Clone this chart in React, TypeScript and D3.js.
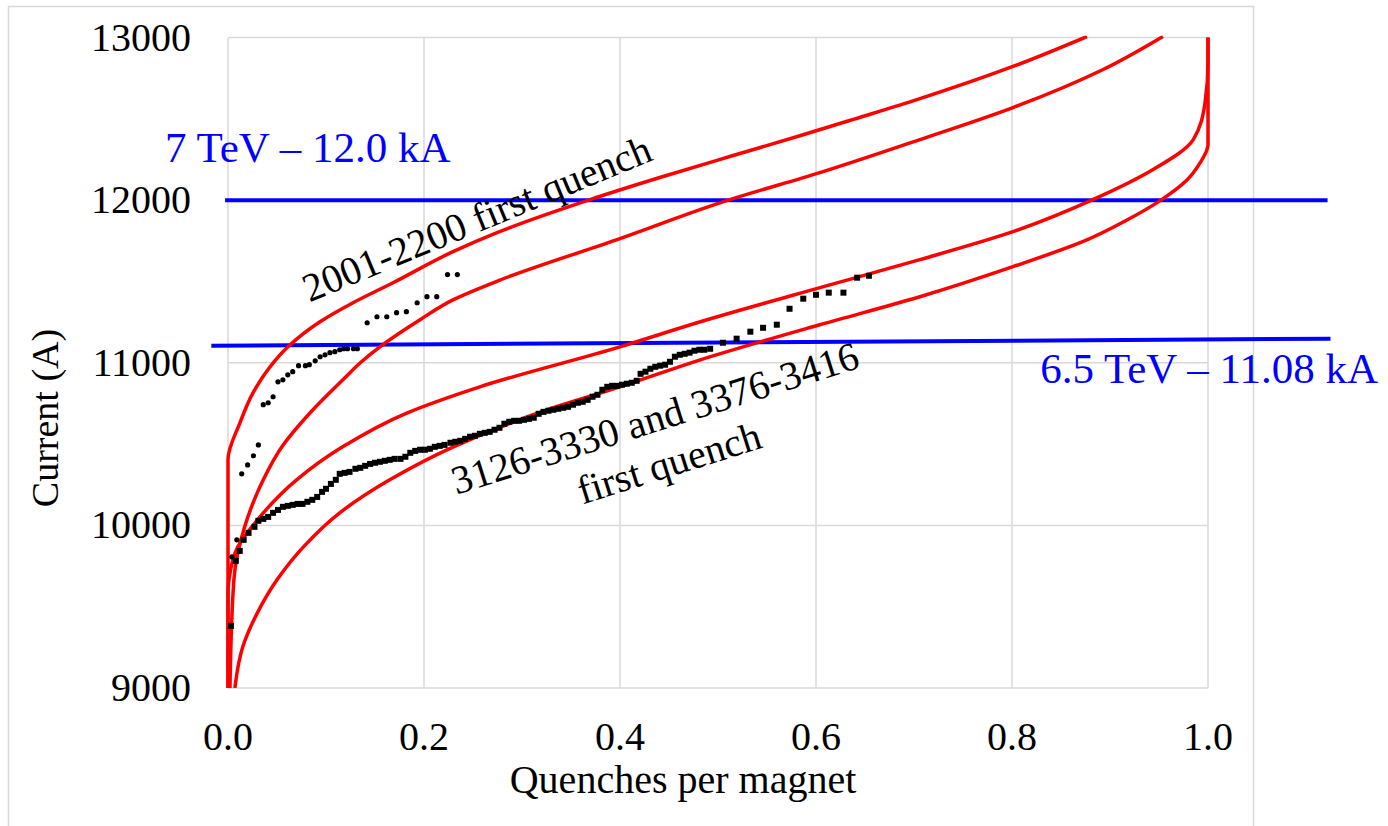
import React from 'react';
import * as d3 from 'd3';

// red envelope curves: [quenches per magnet, current A]
const curveA: [number, number][] = [
  [0, 9000], [0, 10403], [0.0122, 10631], [0.0255, 10815], [0.0429, 10975],
  [0.0612, 11098], [0.0939, 11252], [0.1276, 11369], [0.1684, 11492],
  [0.2296, 11683], [0.2745, 11800], [0.3694, 12003], [0.444, 12145],
  [0.512, 12268], [0.581, 12391], [0.64, 12500], [0.703, 12618],
  [0.801, 12822], [0.8765, 13006],
];
const curveB: [number, number][] = [
  [0.002, 9000], [0.006, 9665], [0.017, 9991], [0.036, 10280], [0.055, 10483],
  [0.085, 10700], [0.118, 10900], [0.135, 11000], [0.155, 11098], [0.196, 11265],
  [0.23, 11388], [0.276, 11505], [0.397, 11757], [0.512, 12003], [0.604, 12169],
  [0.706, 12372], [0.801, 12569], [0.893, 12803], [0.954, 13006],
];
const curveC: [number, number][] = [
  [0, 9000], [0, 9585], [0.001, 9665], [0.01, 9868], [0.03, 10034], [0.07, 10280],
  [0.117, 10483], [0.183, 10692], [0.257, 10852], [0.4, 11098], [0.482, 11252],
  [0.604, 11462], [0.706, 11634], [0.801, 11806], [0.887, 12015], [0.944, 12188],
  [0.985, 12372], [0.997, 12600], [1.0, 12846], [1.0, 13000],
];
const curveD: [number, number][] = [
  [0.007, 9000], [0.015, 9252], [0.03, 9462], [0.05, 9665], [0.077, 9868],
  [0.114, 10077], [0.165, 10280], [0.23, 10483], [0.326, 10711], [0.4, 10852],
  [0.482, 11018], [0.604, 11234], [0.706, 11406], [0.801, 11591], [0.877, 11757],
  [0.915, 11870], [0.952, 12000], [0.978, 12120], [0.992, 12230], [1.0, 12340],
  [1.0, 13000],
];
const redCurves = [curveA, curveB, curveC, curveD];

// 2001-2200 first quench (round dots)
const dots2001: [number, number][] = [
  [0.004, 9806], [0.009, 9911], [0.014, 10317], [0.02, 10372], [0.026, 10428],
  [0.031, 10495], [0.036, 10742], [0.041, 10754], [0.046, 10791], [0.051, 10883],
  [0.056, 10895], [0.061, 10926], [0.066, 10945], [0.072, 10982], [0.079, 10982],
  [0.083, 10988], [0.089, 11012], [0.094, 11037], [0.099, 11049], [0.104, 11062],
  [0.109, 11068], [0.114, 11080], [0.118, 11086], [0.122, 11086], [0.128, 11086],
  [0.132, 11086], [0.142, 11246], [0.152, 11283], [0.162, 11283], [0.172, 11308],
  [0.182, 11314], [0.193, 11369], [0.203, 11406], [0.213, 11406], [0.224, 11542],
  [0.234, 11542],
];

// 3126-3330 and 3376-3416 first quench (squares)
const squares3126: [number, number][] = [
  [0.003, 9382], [0.008, 9782], [0.012, 9843], [0.016, 9911], [0.021, 9954],
  [0.027, 9991], [0.031, 10028], [0.036, 10040], [0.041, 10052], [0.046, 10077],
  [0.051, 10095], [0.056, 10114], [0.061, 10120], [0.066, 10126], [0.071, 10132],
  [0.076, 10132], [0.081, 10145], [0.086, 10157], [0.091, 10175], [0.096, 10206],
  [0.1, 10225], [0.105, 10255], [0.11, 10280], [0.114, 10317], [0.119, 10323],
  [0.124, 10329], [0.13, 10348], [0.135, 10354], [0.14, 10366], [0.145, 10378],
  [0.15, 10385], [0.155, 10391], [0.16, 10397], [0.165, 10403], [0.17, 10409],
  [0.176, 10409], [0.181, 10422], [0.186, 10446], [0.191, 10458], [0.196, 10465],
  [0.201, 10465], [0.206, 10471], [0.211, 10483], [0.216, 10489], [0.221, 10495],
  [0.227, 10508], [0.232, 10514], [0.237, 10520], [0.242, 10532], [0.247, 10545],
  [0.252, 10551], [0.257, 10563], [0.262, 10569], [0.267, 10575], [0.272, 10588],
  [0.277, 10600], [0.282, 10625], [0.287, 10637], [0.292, 10643], [0.297, 10643],
  [0.302, 10649], [0.307, 10655], [0.312, 10662], [0.317, 10686], [0.322, 10698],
  [0.327, 10705], [0.332, 10711], [0.337, 10717], [0.342, 10723], [0.347, 10729],
  [0.352, 10742], [0.357, 10754], [0.362, 10760], [0.367, 10772], [0.372, 10791],
  [0.377, 10803], [0.382, 10834], [0.387, 10852], [0.392, 10858], [0.397, 10858],
  [0.402, 10865], [0.407, 10871], [0.412, 10877], [0.417, 10889], [0.421, 10932],
  [0.426, 10945], [0.431, 10963], [0.436, 10975], [0.441, 10982], [0.446, 10988],
  [0.451, 11006], [0.456, 11037], [0.461, 11049], [0.466, 11055], [0.471, 11062],
  [0.476, 11074], [0.481, 11080], [0.486, 11080], [0.492, 11086], [0.505, 11123],
  [0.519, 11148], [0.533, 11191], [0.546, 11215], [0.56, 11234], [0.573, 11332],
  [0.587, 11394], [0.6, 11418], [0.613, 11431], [0.628, 11431], [0.642, 11523],
  [0.654, 11535],
];

// blue energy reference lines
const line7TeV: [number, number][] = [[-0.003, 12000], [1.122, 12000]];
const line65TeV: [number, number][] = [[-0.017, 11105], [1.125, 11148]];

const xTicks = [0, 0.2, 0.4, 0.6, 0.8, 1.0];
const yTicks = [9000, 10000, 11000, 12000, 13000];

const W = 1388;
const H = 826;
const FONT = '"Liberation Serif", "Times New Roman", serif';

export default function App() {
  const x = d3.scaleLinear().domain([0, 1]).range([228, 1208]);
  const y = d3.scaleLinear().domain([9000, 13000]).range([688, 37.5]);

  const line = d3
    .line<[number, number]>()
    .x((d) => x(d[0]))
    .y((d) => y(d[1]));
  const smooth = d3
    .line<[number, number]>()
    .x((d) => x(d[0]))
    .y((d) => y(d[1]))
    .curve(d3.curveMonotoneY);

  const grid = '#d9d9d9';

  return (
    <svg
      width={W}
      height={H}
      viewBox={`0 0 ${W} ${H}`}
      style={{ position: 'absolute', left: 0, top: 0, background: '#fff' }}
      fontFamily={FONT}
    >
      <defs>
        <clipPath id="plot">
          <rect x={x(0) - 2} y={y(13000) - 2} width={x(1) - x(0) + 4} height={y(9000) - y(13000) + 2} />
        </clipPath>
      </defs>

      {/* chart area border */}
      <rect x={8.5} y={6.5} width={1245} height={900} fill="none" stroke={grid} strokeWidth={1.5} />

      {/* gridlines */}
      {xTicks.map((t) => (
        <line key={'gx' + t} x1={x(t)} x2={x(t)} y1={y(9000)} y2={y(13000)} stroke={grid} strokeWidth={1.5} />
      ))}
      {yTicks.map((t) => (
        <line key={'gy' + t} x1={x(0)} x2={x(1)} y1={y(t)} y2={y(t)} stroke={grid} strokeWidth={1.5} />
      ))}

      {/* tick labels */}
      {yTicks.map((t) => (
        <text key={'ty' + t} x={191} y={y(t) + 13} textAnchor="end" fontSize={40} fill="#000">
          {t}
        </text>
      ))}
      {xTicks.map((t) => (
        <text key={'tx' + t} x={x(t)} y={750} textAnchor="middle" fontSize={40} fill="#000">
          {t.toFixed(1)}
        </text>
      ))}

      {/* axis titles */}
      <text x={683} y={793} textAnchor="middle" fontSize={40} fill="#000">
        Quenches per magnet
      </text>
      <text transform="translate(58,418) rotate(-90)" textAnchor="middle" fontSize={38} fill="#000">
        Current (A)
      </text>

      {/* blue reference lines */}
      <path d={line(line7TeV) ?? ''} stroke="#0000ff" strokeWidth={4} fill="none" />
      <path d={line(line65TeV) ?? ''} stroke="#0000ff" strokeWidth={4} fill="none" />

      {/* red curves */}
      <g clipPath="url(#plot)">
        {redCurves.map((c, i) => (
          <path key={'c' + i} d={smooth(c) ?? ''} stroke="#ff0000" strokeWidth={3.5} fill="none" />
        ))}
      </g>

      {/* data */}
      {dots2001.map((d, i) => (
        <circle key={'d' + i} cx={x(d[0])} cy={y(d[1])} r={2.6} fill="#000" />
      ))}
      {squares3126.map((d, i) => (
        <rect key={'s' + i} x={x(d[0]) - 3} y={y(d[1]) - 3} width={6} height={6} fill="#000" />
      ))}

      {/* labels */}
      <text x={165} y={162} fontSize={43} fill="#0000ff">
        7 TeV – 12.0 kA
      </text>
      <text x={1378} y={383} textAnchor="end" fontSize={43} fill="#0000ff">
        6.5 TeV – 11.08 kA
      </text>

      <text transform="translate(482,231) rotate(-22.5)" textAnchor="middle" fontSize={40} fill="#000">
        2001-2200 first quench
      </text>
      <g transform="translate(659,431) rotate(-17.5)">
        <text x={0} y={0} textAnchor="middle" fontSize={40} fill="#000">
          3126-3330 and 3376-3416
        </text>
        <text x={0} y={47} textAnchor="middle" fontSize={40} fill="#000">
          first quench
        </text>
      </g>
    </svg>
  );
}
